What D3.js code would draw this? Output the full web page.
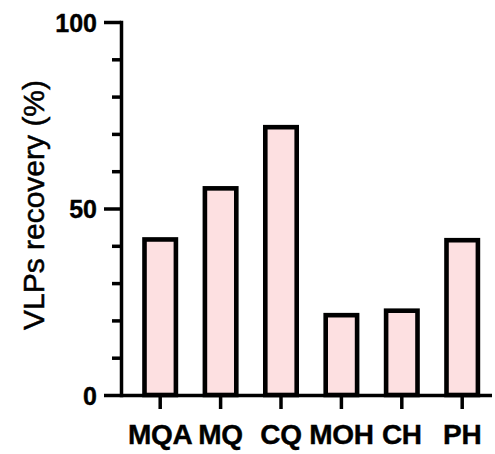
<!DOCTYPE html>
<html>
<head>
<meta charset="utf-8">
<script src="https://cdn.jsdelivr.net/npm/d3@7/dist/d3.min.js"></script>
<style>
  html, body { margin: 0; padding: 0; background: #fff; }
  svg { display: block; }
  text { font-family: "Liberation Sans", Arial, sans-serif; fill: #000; }
</style>
</head>
<body>
<svg id="chart" width="495" height="454"></svg>
<script>
// Recovery of VLPs by method
const categories = ["MQA", "MQ", "CQ", "MOH", "CH", "PH"];
const recovery = [41.7, 55.4, 71.8, 21.4, 22.6, 41.5];
const majorTicks = [0, 50, 100];
const minorTicks = [10, 20, 30, 40, 60, 70, 80, 90];
const yLabel = "VLPs recovery (%)";

const svg = d3.select("#chart");

const y = d3.scaleLinear().domain([0, 100]).range([395, 22]);
const x = d3.scaleBand()
  .domain(categories)
  .range([130, 492.4])
  .paddingInner(0.48)
  .paddingOuter(0.24);

const axisLeftX = 121;

// bars
svg.append("g")
  .selectAll("rect")
  .data(categories.map((c, i) => ({ c, v: recovery[i] })))
  .join("rect")
  .attr("x", d => x(d.c))
  .attr("y", d => y(d.v))
  .attr("width", x.bandwidth())
  .attr("height", d => y(0) - y(d.v))
  .attr("fill", "#fde0e1")
  .attr("stroke", "#000")
  .attr("stroke-width", 4.6);

// minor y ticks
svg.append("g")
  .attr("transform", `translate(${axisLeftX},0)`)
  .call(d3.axisLeft(y).tickValues(minorTicks).tickSize(9).tickFormat(""))
  .call(g => g.select(".domain").remove())
  .call(g => g.selectAll("line").attr("stroke-width", 3.5));

// major y axis
svg.append("g")
  .attr("transform", `translate(${axisLeftX},0)`)
  .call(d3.axisLeft(y).tickValues(majorTicks).tickSize(17).tickSizeOuter(0).tickPadding(7))
  .call(g => g.select(".domain").attr("stroke-width", 3.5).attr("stroke-linecap", "square"))
  .call(g => g.selectAll("line").attr("stroke-width", 3.5))
  .call(g => g.selectAll("text")
    .style("font-size", "25px")
    .style("font-weight", "bold")
    .attr("stroke", "#000")
    .attr("stroke-width", 0.4)
    .attr("dy", "0.36em"));

// x axis
const xAxis = svg.append("g")
  .attr("transform", `translate(0,${y(0)})`)
  .call(d3.axisBottom(x).tickSize(14).tickSizeOuter(0).tickPadding(15));
xAxis.select(".domain")
  .attr("d", `M${axisLeftX},0.5H492`)
  .attr("stroke-width", 3.5);
xAxis.selectAll("line").attr("stroke-width", 3.5);
xAxis.selectAll("text")
  .style("font-size", "28px")
  .style("font-weight", "bold")
  .style("letter-spacing", "-0.3px")
  .attr("stroke", "#000")
  .attr("stroke-width", 0.4);

// y axis title
svg.append("text")
  .attr("transform", `translate(44,205) rotate(-90)`)
  .attr("text-anchor", "middle")
  .style("font-size", "30px")
  .attr("stroke", "#000")
  .attr("stroke-width", 0.5)
  .text(yLabel);
</script>
</body>
</html>
